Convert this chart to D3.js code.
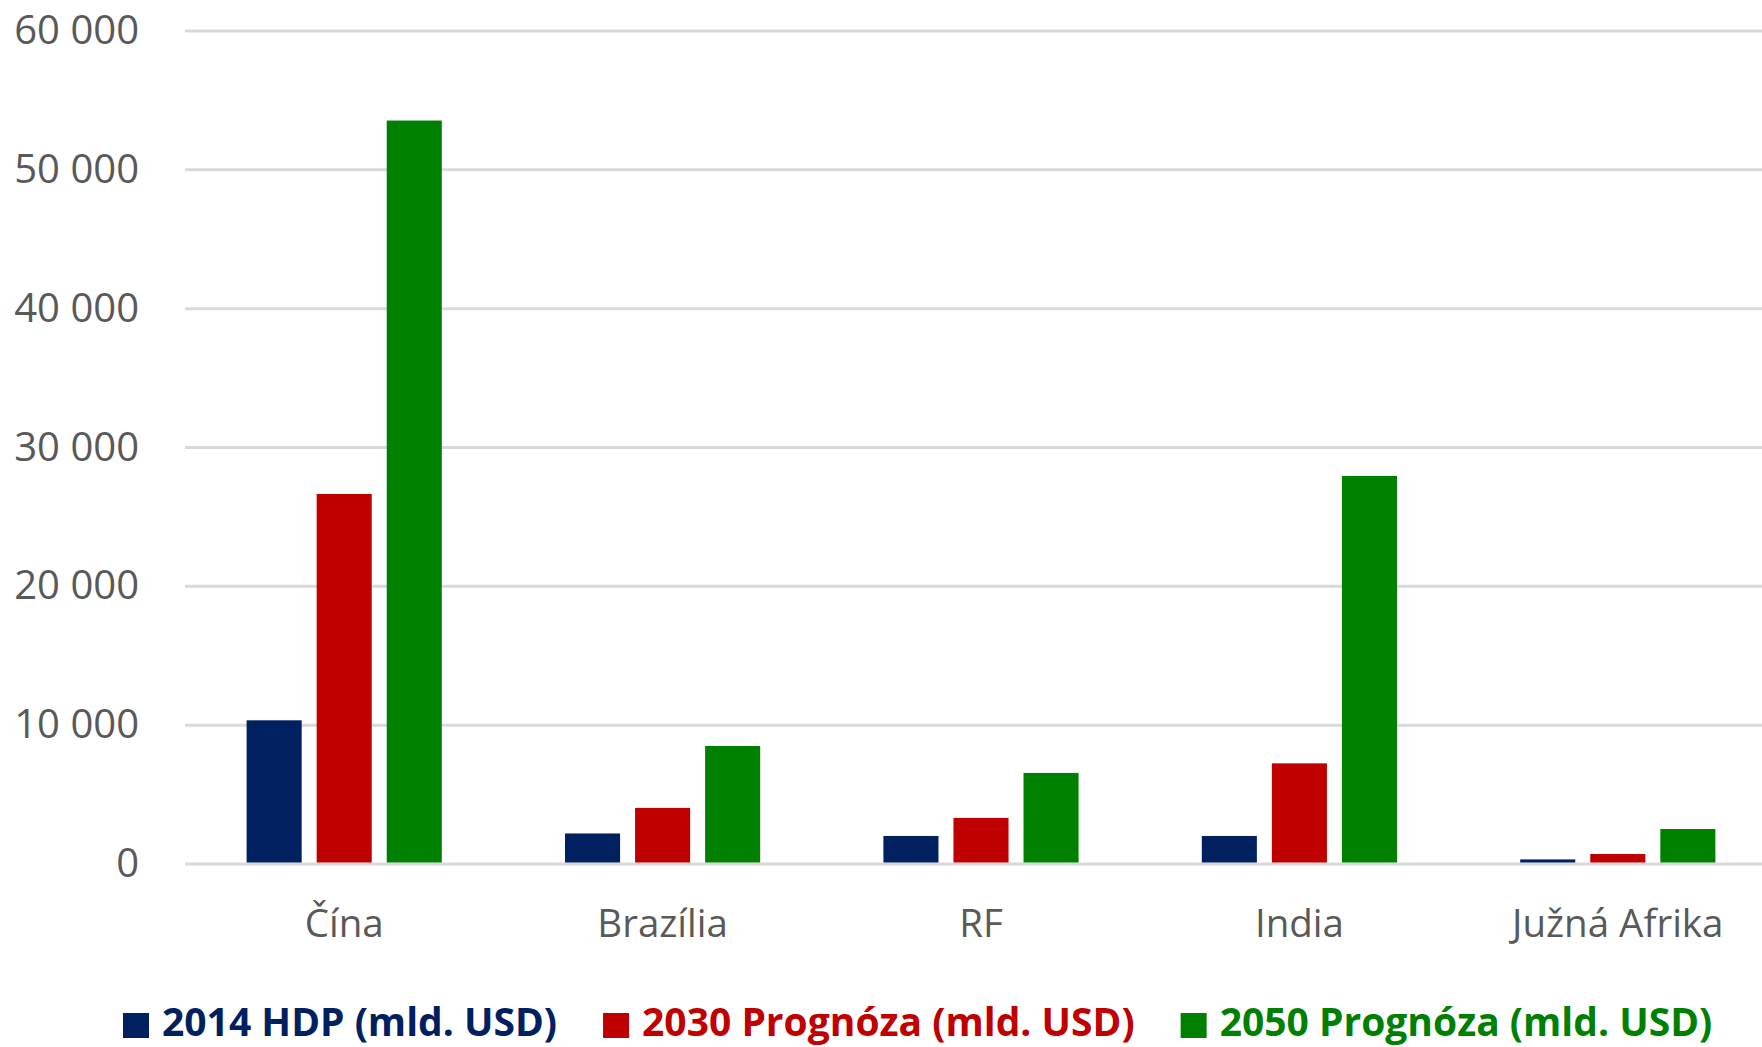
<!DOCTYPE html>
<html><head><meta charset="utf-8">
<script src="https://cdn.jsdelivr.net/npm/d3@7"></script>
<style>
html,body{margin:0;padding:0;background:#fff;}
svg{display:block;font-family:"Open Sans",sans-serif;}
</style></head>
<body><svg id="chart" width="1762" height="1047"></svg>
<script>
const categories = ["Čína", "Brazília", "RF", "India", "Južná Afrika"];
const seriesNames = ["2014 HDP (mld. USD)", "2030 Prognóza (mld. USD)", "2050 Prognóza (mld. USD)"];
const values2014 = [10350, 2200, 2020, 2020, 330];
const values2030 = [26650, 4040, 3320, 7250, 720];
const values2050 = [53550, 8500, 6560, 27950, 2520];
const yTicks = [0, 10000, 20000, 30000, 40000, 50000, 60000];
const colors = ["#002060", "#C00000", "#008000"];

(function () {
const series = [values2014, values2030, values2050];
const svg = d3.select("#chart");
const mLeft = 185, mRight = 1777, mTop = 31, mBottom = 864;

const y = d3.scaleLinear().domain([0, 60000]).range([mBottom, mTop]);
const x0 = d3.scaleBand().domain(categories).range([mLeft, mRight]).paddingInner(0.387).paddingOuter(0.1935);
const x1 = d3.scaleBand().domain(d3.range(3)).range([0, x0.bandwidth()]).paddingInner(0.214).paddingOuter(0);

const fmt = v => d3.format(",")(v).replace(/,/g, " ");

svg.append("g").selectAll("line").data(yTicks).join("line")
  .attr("x1", mLeft).attr("x2", 1762)
  .attr("y1", d => y(d)).attr("y2", d => y(d))
  .attr("stroke", "#d9d9d9").attr("stroke-width", 3);

svg.append("g").selectAll("text").data(yTicks).join("text")
  .attr("x", 139).attr("y", d => y(d) + 13)
  .attr("text-anchor", "end").attr("font-size", 40).attr("fill", "#595959")
  .text(d => fmt(d));

const g = svg.append("g").selectAll("g").data(categories).join("g")
  .attr("transform", c => `translate(${x0(c)},0)`);
g.selectAll("rect").data((c, i) => series.map((s, k) => ({k, v: s[i]}))).join("rect")
  .attr("x", d => x1(d.k)).attr("width", x1.bandwidth())
  .attr("y", d => y(d.v)).attr("height", d => y(0) - 1.5 - y(d.v))
  .attr("fill", d => colors[d.k]);

svg.append("g").selectAll("text").data(categories).join("text")
  .attr("x", c => x0(c) + x0.bandwidth() / 2).attr("y", 937)
  .attr("text-anchor", "middle").attr("font-size", 38.5).attr("fill", "#595959")
  .text(c => c);

const lg = svg.append("g");
let lx = 123;
seriesNames.forEach((name, k) => {
  lg.append("rect").attr("x", lx).attr("y", 1013).attr("width", 26).attr("height", 25).attr("fill", colors[k]);
  const t = lg.append("text").attr("x", lx + 39).attr("y", 1036)
    .attr("font-size", 39).attr("font-weight", "bold").attr("fill", colors[k]).text(name);
  lx += 39 + t.node().getComputedTextLength() + 46;
});
})();
</script></body></html>
